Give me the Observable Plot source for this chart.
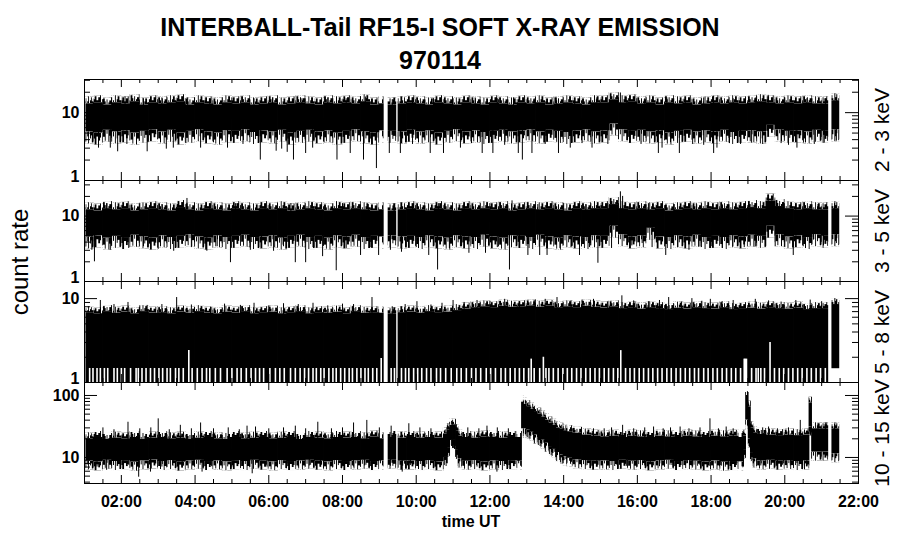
<!DOCTYPE html>
<html><head><meta charset="utf-8">
<script src="https://cdn.jsdelivr.net/npm/d3@7"></script>
<script src="https://cdn.jsdelivr.net/npm/@observablehq/plot@0.6"></script>
<style>
body{margin:0;background:#fff;}
#wrap{position:relative;width:900px;height:548px;overflow:hidden;background:#fff;font-family:"Liberation Sans",Arial,Helvetica,sans-serif;color:#000;}
.lbl{position:absolute;white-space:nowrap;line-height:1;}
.c{transform:translate(-50%,-50%);}
.r{transform:translate(-50%,-50%) rotate(-90deg);}
pattern rect{shape-rendering:crispEdges;}
</style></head><body>
<svg width="0" height="0" style="position:absolute">
<defs>
<pattern id="gU0" patternUnits="objectBoundingBox" patternContentUnits="objectBoundingBox" x="0" y="0" width="1" height="1">
<rect x="0.00" y="0.30" width="0.13" height="0.70"/><rect x="0.17" y="0.65" width="0.13" height="0.35"/><rect x="0.33" y="0.00" width="0.13" height="1.00"/><rect x="0.50" y="0.50" width="0.13" height="0.50"/><rect x="0.66" y="0.15" width="0.13" height="0.85"/><rect x="0.83" y="0.70" width="0.13" height="0.30"/>
</pattern>
<pattern id="gU1" patternUnits="objectBoundingBox" patternContentUnits="objectBoundingBox" x="0" y="0" width="1" height="1">
<rect x="0.05" y="0.55" width="0.13" height="0.45"/><rect x="0.22" y="0.10" width="0.13" height="0.90"/><rect x="0.40" y="0.70" width="0.13" height="0.30"/><rect x="0.56" y="0.35" width="0.13" height="0.65"/><rect x="0.72" y="0.00" width="0.13" height="1.00"/><rect x="0.87" y="0.50" width="0.13" height="0.50"/>
</pattern>
<pattern id="gU2" patternUnits="objectBoundingBox" patternContentUnits="objectBoundingBox" x="0" y="0" width="1" height="1">
<rect x="0.10" y="0.10" width="0.13" height="0.90"/><rect x="0.27" y="0.50" width="0.13" height="0.50"/><rect x="0.45" y="0.25" width="0.13" height="0.75"/><rect x="0.60" y="0.75" width="0.13" height="0.25"/><rect x="0.74" y="0.40" width="0.13" height="0.60"/><rect x="0.87" y="0.05" width="0.13" height="0.95"/>
</pattern>
<pattern id="gD0" patternUnits="objectBoundingBox" patternContentUnits="objectBoundingBox" x="0" y="0" width="1" height="1">
<rect x="0.00" y="0" width="0.13" height="0.80"/><rect x="0.17" y="0" width="0.13" height="0.40"/><rect x="0.33" y="0" width="0.13" height="1.00"/><rect x="0.50" y="0" width="0.13" height="0.55"/><rect x="0.66" y="0" width="0.13" height="0.30"/><rect x="0.83" y="0" width="0.13" height="0.90"/>
</pattern>
<pattern id="gD1" patternUnits="objectBoundingBox" patternContentUnits="objectBoundingBox" x="0" y="0" width="1" height="1">
<rect x="0.05" y="0" width="0.13" height="0.50"/><rect x="0.22" y="0" width="0.13" height="1.00"/><rect x="0.40" y="0" width="0.13" height="0.35"/><rect x="0.56" y="0" width="0.13" height="0.70"/><rect x="0.72" y="0" width="0.13" height="0.45"/><rect x="0.87" y="0" width="0.13" height="0.85"/>
</pattern>
<pattern id="gD2" patternUnits="objectBoundingBox" patternContentUnits="objectBoundingBox" x="0" y="0" width="1" height="1">
<rect x="0.10" y="0" width="0.13" height="0.60"/><rect x="0.27" y="0" width="0.13" height="0.90"/><rect x="0.45" y="0" width="0.13" height="0.30"/><rect x="0.60" y="0" width="0.13" height="1.00"/><rect x="0.74" y="0" width="0.13" height="0.50"/><rect x="0.87" y="0" width="0.13" height="0.70"/>
</pattern>
</defs></svg>
<div id="wrap">
<div class="lbl c" style="left:440px;top:27px;font-size:25px;font-weight:bold">INTERBALL-Tail RF15-I SOFT X-RAY EMISSION</div>
<div class="lbl c" style="left:440px;top:60px;font-size:25px;font-weight:bold">970114</div>
<div class="lbl r" style="left:20px;top:262px;font-size:24px">count rate</div>
<div class="lbl c" style="left:471px;top:522px;font-size:16px;font-weight:bold">time UT</div>
</div>
<script>
// ---------- time bins (hours UT) ----------
const edges = [1.05, 1.25, 1.5, 1.75,
  2, 2.25, 2.5, 2.75, 3, 3.25, 3.5, 3.75, 4, 4.25, 4.5, 4.75, 5, 5.25, 5.5, 5.75, 6, 6.25, 6.5, 6.75, 7, 7.25, 7.5, 7.75, 8, 8.25, 8.5, 8.75, 9,
  9.12, 9.25, 9.46, 9.52, 9.75,
  10, 10.25, 10.5, 10.75, 11, 11.25, 11.5, 11.75, 12, 12.25, 12.5, 12.75, 13, 13.25, 13.5, 13.75, 14, 14.25, 14.5, 14.75, 15, 15.25, 15.5, 15.75, 16, 16.25, 16.5, 16.75, 17, 17.25, 17.5, 17.75, 18, 18.25, 18.5, 18.75, 19, 19.25, 19.5, 19.75, 20, 20.25, 20.5, 20.75, 21,
  21.18, 21.29, 21.48];

const edges4 = [1.05, 1.25, 1.5, 1.75,
  2, 2.25, 2.5, 2.75, 3, 3.25, 3.5, 3.75, 4, 4.25, 4.5, 4.75, 5, 5.25, 5.5, 5.75, 6, 6.25, 6.5, 6.75, 7, 7.25, 7.5, 7.75, 8, 8.25, 8.5, 8.75, 9,
  9.12, 9.25, 9.46, 9.52, 9.75,
  10, 10.25, 10.5, 10.75,
  10.85, 10.92, 11, 11.08, 11.15, 11.25,
  11.5, 11.75, 12, 12.25, 12.5, 12.75,
  12.87, 12.92, 13, 13.1, 13.2, 13.3, 13.4, 13.5, 13.6, 13.7, 13.8, 13.9, 14, 14.1, 14.25, 14.5,
  14.75, 15,
  15.25, 15.5, 15.75, 16, 16.25, 16.5, 16.75, 17, 17.25, 17.5, 17.75, 18, 18.25, 18.5, 18.75,
  18.88, 18.95, 19.02, 19.08, 19.15, 19.25,
  19.5, 19.75, 20, 20.25, 20.5,
  20.67, 20.74, 21,
  21.18, 21.29, 21.48];

// ---------- 2 - 3 keV : dense band upper / lower envelope ----------
const p1Hi = [13.5, 14, 13, 14,
  13.5, 14.5, 13, 14,  13.5, 14, 14.5, 13,  14, 13.5, 13, 14,  13.5, 14, 13, 13.5,
  14, 13, 13.5, 14,  13.5, 13, 14, 13.5,  14, 13.5, 14.5, 13,
  13.5, null, 13, null, 13.5, 14,
  13.5, 13, 14, 13.5,  13, 14, 13.5, 13,  14, 13.5, 13, 14,  13.5, 14, 13, 13.5,
  14, 13.5, 13, 14,  14, 15.5, 14, 14.5,  13.5, 14, 13, 14,  13.5, 14, 13, 13.5,
  14, 13.5, 14, 13.5,  14, 14.5, 14, 13.5,  14, 13.5, 14, 13.5,
  13.5, null, 15];
const p1Lo = [5.2, 5, 5.5, 5.2,
  5.4, 5, 5.3, 5.6,  5.2, 5.5, 5, 5.3,  5.6, 5.2, 5, 5.4,  5.3, 5.6, 5.1, 5.4,
  5.2, 5.5, 5, 5.3,  5.5, 5.2, 5.4, 5,  5.3, 5.6, 5.2, 5,
  5.4, null, 5.3, null, 5.2, 5.5,
  5.2, 5.4, 5, 5.3,  5.6, 5.2, 5.4, 5.1,  5.3, 5.5, 5.2, 5.4,  5.6, 5.2, 5.5, 5.3,
  5.1, 5.4, 5.6, 5.2,  5.4, 6.8, 5.6, 5.3,  5.5, 5.2, 5.4, 5,  5.3, 5.5, 5.2, 5.4,
  5.2, 5.5, 5.1, 5.3,  5.4, 5.2, 6.5, 5.6,  5.3, 5.4, 5.2, 5.5,
  5.3, null, 5.6];
const p1Spikes = [[1.38,3.0],[1.7,3.0],[1.9,2.65],[2.15,3.4],[2.7,2.65],[3.22,2.9],[3.41,3.0],[3.75,3.5],[4.15,3.0],[4.5,3.6],[4.88,3.0],[5.3,3.4],[5.77,2.0],[6.2,2.7],[6.35,2.9],[6.5,2.6],[6.67,2.0],[7.0,2.5],[7.19,3.0],[7.5,3.6],[7.85,2.0],[8.21,2.5],[8.57,2.0],[8.92,1.5],[9.27,2.5],[9.57,2.5],[9.9,3.4],[10.38,2.5],[10.74,2.5],[11.2,3.0],[11.5,3.5],[11.79,2.5],[12.08,2.5],[12.4,3.3],[12.77,2.5],[12.88,2.0],[13.14,2.5],[13.5,3.4],[13.86,2.5],[14.18,3.0],[14.5,3.5],[14.77,3.0],[15.2,3.4],[15.8,3.55],[16.1,3.4],[16.57,2.5],[16.67,3.0],[16.9,3.6],[17.14,2.5],[17.5,3.4],[17.8,3.3],[18.07,2.5],[18.16,3.0],[18.5,3.5],[18.8,3.4],[19.1,3.55],[19.4,3.4],[19.9,3.5],[20.1,3.3],[20.33,3.0],[20.51,3.55],[20.8,3.4],[21.07,3.55],[21.4,3.8],
  [1.5,15.5],[2.1,17.1],[2.6,16],[3.1,16.5],[3.8,16.5],[4.4,16],[5.0,16.5],[5.6,16],[6.1,16.5],[6.9,16],[7.6,16.5],[8.1,16],[8.62,17],[9.35,15.5],[9.9,16],[10.47,16.1],[11.0,16],[11.6,16.5],[12.2,16],[12.64,16.5],[13.2,16],[13.8,16.5],[14.3,16],[14.9,16.5],[15.54,19.5],[15.7,17],[16.2,16],[16.8,16.5],[17.3,16],[17.8,16.5],[18.07,17.5],[18.6,16],[19.2,16.5],[19.55,18],[20.0,16.5],[20.6,16],[21.1,16],[21.4,16.5]];

// ---------- 3 - 5 keV ----------
const p2Hi = [12.5, 12, 13, 12.5,
  13, 12, 12.5, 13,  12.5, 12, 13.5, 12.5,  12, 13, 12.5, 12,  13, 12.5, 12, 13,
  12.5, 13, 12, 12.5,  13, 12.5, 12, 13,  12.5, 13, 12.5, 12,
  12.5, null, 12, null, 12.5, 13,
  12.5, 12, 13, 12.5,  12, 13, 12.5, 13,  12.5, 13, 12, 12.5,  13, 12.5, 13, 12.5,
  12, 13, 12.5, 13,  13, 15, 13, 12.5,  13, 12.5, 13, 12,  12.5, 13, 12.5, 13,
  12.5, 13, 12.5, 13,  13.5, 13, 17, 14,  13, 12.5, 13, 12.5,
  12.5, null, 13];
const p2Lo = [4.8, 5, 4.6, 4.9,
  4.7, 5.1, 4.8, 4.6,  5, 4.7, 4.9, 5.2,  4.8, 4.6, 5, 4.7,  4.9, 5.1, 4.7, 4.8,
  5, 4.6, 4.9, 5.1,  4.7, 4.9, 4.6, 5,  4.8, 5.1, 4.7, 4.9,
  4.8, null, 5, null, 4.8, 4.9,
  4.7, 5, 4.8, 4.6,  5, 4.8, 4.7, 5.1,  4.8, 4.6, 5, 4.9,  4.7, 5.1, 4.8, 4.6,
  5, 4.8, 4.7, 5,  4.9, 7, 5.2, 4.8,  5, 6.5, 4.8, 4.7,  5, 4.8, 5.1, 4.7,
  4.9, 4.7, 5, 4.8,  5.1, 4.9, 7, 5.2,  4.8, 5, 4.7, 5.2,
  4.9, null, 5.2];
const p2Spikes = [[1.2,3.0],[1.27,2.0],[1.7,3.0],[2.2,3.2],[2.6,3.4],[3.0,3.1],[3.42,2.9],[3.9,3.3],[4.32,2.9],[4.6,3.4],[4.96,1.94],[5.5,3.0],[5.8,3.3],[6.13,2.9],[6.4,3.4],[6.72,1.94],[7.0,1.94],[7.2,3.3],[7.46,2.4],[7.83,1.46],[8.1,3.2],[8.49,2.5],[8.75,3.3],[8.98,2.5],[9.3,3.0],[9.6,2.8],[10.0,3.3],[10.34,2.5],[10.58,1.5],[10.9,3.2],[11.2,3.4],[11.43,2.7],[11.88,2.7],[12.2,3.3],[12.53,1.5],[12.8,3.2],[13.03,2.5],[13.35,2.5],[13.55,2.5],[13.9,3.2],[14.2,3.3],[14.43,2.5],[14.7,3.3],[14.93,1.9],[15.3,3.2],[15.85,3.5],[16.13,3.8],[16.4,3.3],[16.77,2.5],[17.1,3.3],[17.4,3.0],[17.7,3.4],[18.02,3.4],[18.3,3.2],[18.59,3.4],[18.9,3.3],[19.2,3.4],[19.74,3.4],[20.0,3.3],[20.23,2.5],[20.5,3.4],[20.78,4.3],[21.05,3.5],[21.4,3.8],
  [1.6,15.5],[2.5,15.6],[3.1,15],[3.78,18.6],[4.4,15],[5.1,15.5],[5.9,15],[6.6,15.5],[7.3,15],[8.0,15.5],[8.7,15],[9.4,15.5],[9.9,15],[10.6,15.5],[11.3,15],[12.0,15.5],[12.6,17.1],[13.3,15],[14.0,15.5],[14.6,15],[15.2,15.5],[15.54,23.5],[15.6,20],[16.3,15.5],[17.0,15],[17.6,15.5],[18.3,15],[18.9,15.5],[19.55,21],[19.65,19],[20.3,15.5],[20.9,15],[21.35,15.5]];

// ---------- 5 - 8 keV ----------
const p3Hi = [6.8, 6.6, 7, 6.7,
  6.9, 6.6, 7, 6.7,  6.8, 6.6, 6.9, 6.7,  7, 6.7, 6.6, 6.9,  6.7, 7, 6.6, 6.8,
  6.9, 6.6, 6.8, 7,  6.6, 6.8, 6.7, 6.9,  6.6, 7, 6.7, 6.8,
  6.7, null, 6.6, null, 6.8, 6.9,
  6.7, 7, 6.8, 6.9,  7.2, 7.5, 7.8, 8,  7.8, 8.1, 7.9, 8,  8.2, 7.9, 8.1, 7.8,
  8, 7.8, 8.1, 7.9,  7.7, 8, 7.6, 7.8,  7.5, 7.8, 7.6, 7.4,  7.7, 7.5, 7.8, 7.6,
  7.5, 7.8, 7.4, 7.6,  7.7, 7.5, 7.8, 7.6,  7.5, 7.7, 7.4, 7.6,
  7.6, null, 8.5];
const p3Lo = [1, 1, 1, 1,
  1, 1, 1, 1,  1, 1, 1, 1,  1, 1, 1, 1,  1, 1, 1, 1,
  1, 1, 1, 1,  1, 1, 1, 1,  1, 1, 1, 1,
  1, null, 1, null, 1, 1,
  1, 1, 1, 1,  1, 1, 1, 1,  1, 1, 1, 1,  1, 1, 1, 1,
  1, 1, 1, 1,  1, 1, 1, 1,  1, 1, 1, 1,  1, 1, 1, 1,
  1, 1, 1, 1,  1, 1, 1, 1,  1, 1, 1, 1,
  1, null, 1.46];
const p3Spikes = [[1.43,9.5],[1.8,8.5],[2.18,9.0],[2.5,8.2],[2.7,8.3],[3.1,8.5],[3.5,10.3],[3.9,8.4],[4.42,7.9],[4.8,8.6],[5.23,8.3],[5.6,8.8],[6.0,8.2],[6.4,8.7],[6.8,8.5],[7.2,8.8],[7.6,8.2],[8.0,8.6],[8.3,8.5],[8.8,10.3],[9.35,8.0],[9.7,8.5],[10.02,9.2],[10.4,8.4],[10.7,8.8],[11.0,9.5],[11.3,9.0],[11.65,9.5],[12.0,9.3],[12.4,9.8],[12.8,9.2],[13.2,9.5],[13.5,9.8],[13.82,10.3],[14.2,9.4],[14.5,9.6],[14.81,9.8],[15.2,9.2],[15.58,10.8],[15.9,9.4],[16.3,9.2],[16.6,9.5],[16.85,10.3],[17.2,9.1],[17.48,10.0],[17.75,9.3],[17.98,9.8],[18.3,9.2],[18.6,9.5],[19.2,9.8],[19.56,9.4],[19.9,9.1],[20.3,9.5],[20.69,9.6],[21.0,9.2],[21.4,9.6]];
// white gaps in the low-count fence (time, top of gap)
const p3Slits = [[1.14,1.47],[1.23,1.47],[1.34,1.47],[1.43,1.47],[1.54,1.47],[1.63,1.47],[1.8,1.47],[1.89,1.47],[2.0,1.47],[2.09,1.47],[2.25,1.47],[2.4,1.47],[2.46,1.47],[2.56,1.47],[2.67,1.47],[2.79,1.47],[2.9,1.47],[3.02,1.47],[3.12,1.47],[3.24,1.47],[3.33,1.47],[3.47,1.47],[3.56,1.47],[3.68,1.47],[3.83,2.4],[3.92,1.47],[4.06,1.47],[4.19,1.47],[4.31,1.47],[4.4,1.47],[4.55,1.47],[4.69,1.47],[4.87,1.47],[5.0,1.47],[5.14,1.47],[5.25,1.47],[5.39,1.47],[5.52,1.47],[5.64,1.47],[5.75,1.47],[5.86,1.47],[6.03,1.47],[6.18,1.47],[6.3,1.47],[6.42,1.47],[6.59,1.47],[6.72,1.47],[6.85,1.47],[6.97,1.47],[7.08,1.47],[7.2,1.47],[7.29,1.47],[7.41,1.47],[7.5,1.47],[7.63,1.47],[7.74,1.47],[7.83,1.47],[7.95,1.47],[8.06,1.47],[8.18,1.47],[8.27,1.47],[8.39,1.47],[8.5,1.47],[8.61,1.47],[8.7,1.47],[8.82,1.47],[8.93,1.47],[9.05,1.93],[9.32,1.47],[9.41,1.47],[9.6,1.47],[9.71,1.47],[9.8,1.47],[9.93,1.47],[10.04,1.47],[10.15,1.47],[10.28,1.47],[10.4,1.47],[10.55,1.47],[10.66,1.47],[10.8,1.47],[10.95,1.47],[11.1,1.47],[11.22,1.47],[11.36,1.47],[11.5,1.47],[11.62,1.47],[11.75,1.47],[11.9,1.47],[12.02,1.47],[12.15,1.47],[12.3,1.47],[12.42,1.47],[12.55,1.47],[12.68,1.47],[12.8,1.47],[12.92,1.47],[13.05,1.47],[13.12,1.9],[13.2,1.47],[13.35,1.47],[13.45,2.0],[13.52,1.47],[13.6,1.47],[13.72,1.47],[13.85,1.47],[13.98,1.47],[14.1,1.47],[14.22,1.47],[14.35,1.47],[14.47,1.47],[14.6,1.47],[14.72,1.47],[14.85,1.47],[14.97,1.47],[15.1,1.47],[15.22,1.47],[15.35,1.47],[15.47,1.47],[15.55,2.4],[15.68,1.47],[15.8,1.47],[15.92,1.47],[16.05,1.47],[16.17,1.47],[16.3,1.47],[16.42,1.47],[16.55,1.47],[16.67,1.47],[16.8,1.47],[16.92,1.47],[17.05,1.47],[17.17,1.47],[17.3,1.47],[17.42,1.47],[17.55,1.47],[17.66,1.47],[17.8,1.47],[17.92,1.47],[18.05,1.47],[18.17,1.47],[18.3,1.47],[18.42,1.47],[18.55,1.47],[18.67,1.47],[18.8,1.47],[18.9,1.9],[18.93,1.9],[18.96,1.9],[19.1,1.47],[19.22,1.47],[19.28,1.47],[19.35,1.47],[19.45,1.47],[19.6,3.0],[19.72,1.47],[19.85,1.47],[19.97,1.47],[20.1,1.47],[20.22,1.47],[20.35,1.47],[20.47,1.47],[20.6,1.47],[20.72,1.47],[20.85,1.47],[20.97,1.47],[21.1,1.47]];

// ---------- 10 - 15 keV (uses edges4) ----------
const p4Hi = [20, 21, 19.5, 20.5,
  20, 21, 19.5, 20.5,  21, 20, 20.5, 19.5,  20.5, 21, 20, 19.5,  21, 20, 20.5, 21,
  20, 20.5, 21, 19.5,  21, 20.5, 20, 21,  20.5, 21, 20, 21.5,
  20, null, 21, null, 20.5, 21,
  20.5, 21, 20.5,
  24, 28, 33, 33, 27, 22,
  21, 20.5, 21.5, 21, 20.5, 21,
  21, 78, 72, 66, 60, 55, 50, 45, 40, 36, 33, 30, 28.5, 27, 26, 24.5,
  23, 22,
  21.5, 22, 21, 22,  21.5, 21, 22, 21.5,  21, 22, 21.5, 21,  22, 21.5, 22,
  21, 22, 100, 65, 30, 25,
  23.5, 23, 22.5, 23, 22.5,
  23, 75, 29,
  29, null, 29];
const p4Lo = [8.8, 8.5, 9, 8.6,
  8.9, 8.4, 8.8, 9.1,  8.6, 8.9, 8.4, 8.8,  9, 8.6, 8.8, 8.5,  8.9, 8.6, 9, 8.7,
  8.5, 8.9, 8.6, 8.8,  9, 8.7, 8.5, 8.9,  8.6, 8.8, 9, 8.6,
  8.8, null, 9, null, 8.7, 8.8,
  8.6, 8.9, 8.5,
  10, 14, 18.8, 18.8, 13, 9.5,
  8.7, 8.9, 8.5, 8.8, 8.6, 8.9,
  8.7, 29, 29, 28, 25.5, 23, 21, 19, 17, 15, 13.5, 12, 11, 10.3, 9.7, 9.2,
  8.9, 8.7,
  8.8, 8.6, 9, 8.7,  8.9, 8.5, 8.8, 9,  8.6, 8.9, 8.7, 8.5,  8.8, 8.4, 8.6,
  8.5, 13, 40, 20, 12, 9.5,
  8.8, 9, 8.7, 8.9, 8.6,
  8.8, 31, 12.2,
  12.2, null, 11.5];
const p4Spikes = [[1.34,7.0],[1.6,6.2],[1.9,7.2],[2.2,7.5],[2.47,4.8],[2.79,5.8],[3.1,7.0],[3.4,7.2],[3.65,7.0],[3.95,7.3],[4.19,5.8],[4.45,7.1],[4.69,7.4],[5.0,7.0],[5.3,7.3],[5.55,5.45],[5.95,7.0],[6.2,7.3],[6.5,7.9],[6.8,7.0],[7.1,7.3],[7.4,7.0],[7.72,7.9],[8.0,7.2],[8.3,7.0],[8.6,7.3],[9.03,7.9],[9.3,7.2],[9.62,5.8],[9.84,7.4],[10.2,7.2],[10.52,7.0],[10.84,7.9],[11.3,7.3],[11.65,7.0],[11.95,7.3],[12.19,5.8],[12.46,7.4],[12.78,7.9],[14.6,7.3],[14.9,7.0],[15.2,7.3],[15.45,7.4],[15.7,7.2],[15.99,7.0],[16.2,7.3],[16.35,7.9],[16.6,7.1],[16.94,7.4],[17.15,7.2],[17.34,7.9],[17.5,7.0],[17.7,7.4],[17.95,7.2],[18.25,7.4],[18.47,7.4],[18.7,7.9],[18.88,7.0],[19.35,7.3],[19.6,7.4],[19.8,7.1],[19.97,7.9],[20.15,7.3],[20.33,8.0],[20.6,7.4],
  [1.5,30],[1.8,28],[2.18,37],[2.5,29],[2.8,30],[3.0,42],[3.3,28],[3.6,33],[3.9,29],[4.15,36],[4.5,29],[4.9,30],[5.2,28],[5.41,32],[5.64,31],[6.0,29],[6.4,30],[6.72,32],[7.0,29],[7.33,37],[7.7,29],[8.0,30],[8.3,36],[8.66,39.6],[9.0,30],[9.32,32],[9.8,35],[10.1,30],[10.4,29],[11.4,30],[11.7,29],[11.92,32],[12.2,30],[12.5,29],[14.81,29],[15.1,29],[15.3,30],[15.6,33],[15.9,29],[16.2,30],[16.44,31],[16.7,29],[16.9,30],[17.16,31],[17.4,29],[17.7,30],[17.97,42],[18.2,29],[18.41,31],[18.6,29],[19.4,30],[19.56,31],[19.8,29],[20.1,30],[20.42,39.6],[20.9,35],[21.1,36],[21.35,34]];

// ---------- axes ----------
const xMajorTicks = [2, 4, 6, 8, 10, 12, 14, 16, 18, 20, 22];
const xTickLabels = ["02:00", "04:00", "06:00", "08:00", "10:00", "12:00", "14:00", "16:00", "18:00", "20:00", "22:00"];
const xMinorTicks = [1.5, 2.5, 3, 3.5, 4.5, 5, 5.5, 6.5, 7, 7.5, 8.5, 9, 9.5, 10.5, 11, 11.5, 12.5, 13, 13.5, 14.5, 15, 15.5, 16.5, 17, 17.5, 18.5, 19, 19.5, 20.5, 21, 21.5];
const yMajorTicks = [1, 10, 100];
const yMinorTicks = [2, 3, 4, 5, 6, 7, 8, 9, 20, 30, 40, 50, 60, 70, 80, 90];
const bandNames = ["2 - 3 keV", "3 - 5 keV", "5 - 8 keV", "10 - 15 keV"];

// ---------- drawing ----------
const W = 900, ML = 84, MR = 42, PH = 101;
const FONT = '"Liberation Sans", Arial, Helvetica, sans-serif';
const wrap = document.getElementById("wrap");

function toBins(e, hi, lo) {
  const out = [];
  for (let i = 0; i < hi.length; i++) {
    if (hi[i] == null || lo[i] == null) continue;
    out.push({i, t0: e[i], t1: e[i + 1], hi: hi[i], lo: lo[i]});
  }
  return out;
}
const toPts = (arr) => arr.map(([t, v]) => ({t, v}));

// short noisy fringe of samples just outside the dense band edges (texture)
function fringe(bins, up, px) {
  const out = [];
  for (let k = 0; k < 3; k++) {
    const sub = bins.filter(d => d.i % 3 === k);
    const opts = {x1: "t0", x2: "t1", insetLeft: -0.4, insetRight: -0.4, fill: `url(#${up ? "gU" : "gD"}${k})`};
    if (up) out.push(Plot.rect(sub, {...opts, y1: "hi", y2: "hi", insetTop: -px}));
    else out.push(Plot.rect(sub, {...opts, y1: "lo", y2: "lo", insetBottom: -px}));
  }
  return out;
}

function makePanel(cfg) {
  const fw = W - ML - MR;
  const minor = yMinorTicks.filter(d => d > cfg.domain[0] && d < cfg.domain[1]);
  const major = yMajorTicks.filter(d => d >= cfg.domain[0] && d <= cfg.domain[1]);
  const mb = cfg.last ? 45 : 0;
  const bins = toBins(cfg.edges, cfg.hi, cfg.lo);
  const marks = [
    Plot.rect(bins, {x1: "t0", x2: "t1", y1: "lo", y2: "hi", fill: "black", insetLeft: -0.4, insetRight: -0.4}),
    ...fringe(bins, true, cfg.fUp),
    ...(cfg.fDn ? fringe(bins, false, cfg.fDn) : []),
    Plot.ruleX(toPts(cfg.spikes), {x: "t", y1: cfg.mid, y2: "v", stroke: "black", strokeWidth: 1})
  ];
  if (cfg.slits) marks.push(Plot.ruleX(toPts(cfg.slits), {x: "t", y1: cfg.domain[0], y2: "v", stroke: "white", strokeWidth: 1.6}));
  marks.push(
    Plot.frame({stroke: "black", strokeWidth: 1}),
    Plot.tickX(xMajorTicks, {x: d => d, insetBottom: PH - 8, stroke: "black"}),
    Plot.tickX(xMajorTicks, {x: d => d, insetTop: PH - 8, stroke: "black"}),
    Plot.tickX(xMinorTicks, {x: d => d, insetBottom: PH - 4, stroke: "black"}),
    Plot.tickX(xMinorTicks, {x: d => d, insetTop: PH - 4, stroke: "black"}),
    Plot.tickY(major, {y: d => d, insetRight: fw - 13, stroke: "black"}),
    Plot.tickY(major, {y: d => d, insetLeft: fw - 13, stroke: "black"}),
    Plot.tickY(minor, {y: d => d, insetRight: fw - 6, stroke: "black"}),
    Plot.tickY(minor, {y: d => d, insetLeft: fw - 6, stroke: "black"}),
    Plot.text(cfg.labels, {y: d => d, text: d => String(d), frameAnchor: "left", textAnchor: "end", dx: -5, fontSize: 16, fontWeight: "bold", fill: "black"})
  );
  if (cfg.lowLabels) marks.push(Plot.text(cfg.lowLabels, {y: d => d, text: d => String(d), frameAnchor: "left", textAnchor: "end", dx: -5, dy: -4, fontSize: 16, fontWeight: "bold", fill: "black"}));
  if (cfg.last) marks.push(Plot.text(xMajorTicks, {x: d => d, text: (d, i) => xTickLabels[i], frameAnchor: "bottom", lineAnchor: "top", dy: 12, fontSize: 16, fontWeight: "bold", fill: "black"}));
  const svg = Plot.plot({
    width: W, height: PH + mb,
    marginLeft: ML, marginRight: MR, marginTop: 0, marginBottom: mb,
    x: {domain: [1, 22], axis: null},
    y: {type: "log", domain: cfg.domain, axis: null},
    style: {fontFamily: FONT, background: "transparent", overflow: "visible", color: "black"},
    marks
  });
  svg.style.position = "absolute";
  svg.style.left = "0px";
  svg.style.top = cfg.top + "px";
  wrap.appendChild(svg);

  const lab = document.createElement("div");
  lab.className = "lbl r";
  lab.style.left = "881px";
  lab.style.top = (cfg.top + PH / 2) + "px";
  lab.style.fontSize = "21px";
  lab.textContent = cfg.name;
  wrap.appendChild(lab);
}

makePanel({top: 79, domain: [1, 30.8], edges, hi: p1Hi, lo: p1Lo, spikes: p1Spikes, mid: 8, fUp: 7, fDn: 12, labels: [10], lowLabels: [1], name: bandNames[0]});
makePanel({top: 180, domain: [1, 35], edges, hi: p2Hi, lo: p2Lo, spikes: p2Spikes, mid: 8, fUp: 7, fDn: 12, labels: [10], lowLabels: [1], name: bandNames[1]});
makePanel({top: 281, domain: [1, 16], edges, hi: p3Hi, lo: p3Lo, spikes: p3Spikes, mid: 4, fUp: 6, slits: p3Slits, labels: [10], lowLabels: [1], name: bandNames[2]});
makePanel({top: 382, domain: [3.8, 162], edges: edges4, hi: p4Hi, lo: p4Lo, spikes: p4Spikes, mid: 13, fUp: 6, fDn: 9, labels: [100, 10], name: bandNames[3], last: true});
</script>
</body></html>
